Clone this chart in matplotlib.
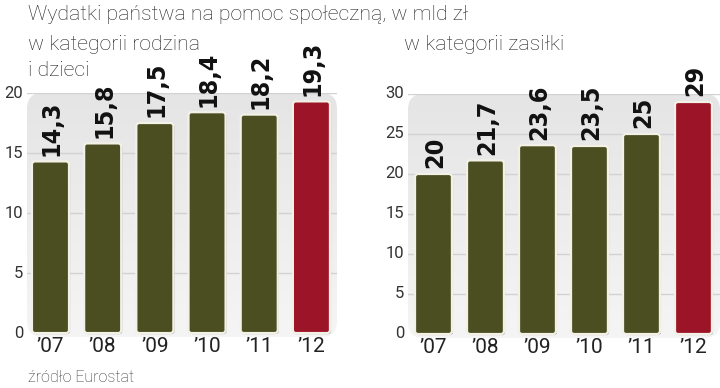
import matplotlib.pyplot as plt
import numpy as np
from matplotlib.patches import FancyBboxPatch
from matplotlib.colors import LinearSegmentedColormap
import matplotlib.patheffects as pe

years = ["\u201907", "\u201908", "\u201909", "\u201910", "\u201911", "\u201912"]
rodzina = [14.3, 15.8, 17.5, 18.4, 18.2, 19.3]
zasilki = [20, 21.7, 23.6, 23.5, 25, 29]
rodzina_labels = ["14,3", "15,8", "17,5", "18,4", "18,2", "19,3"]
zasilki_labels = ["20", "21,7", "23,6", "23,5", "25", "29"]

OLIVE = "#4a4e21"
RED = "#9b1428"
LIGHT = ["Roboto", "DejaVu Sans"]

W, H = 720, 388
fig = plt.figure(figsize=(7.2, 3.88), dpi=100)


def px_axes(left, right, top, bottom):
    return fig.add_axes([left / W, 1 - bottom / H, (right - left) / W, (bottom - top) / H])


def draw_panel(ax, values, labels, ymax, step, xlim, ypad, ypad_label):
    ax.set_xlim(*xlim)
    ax.set_ylim(-ypad, ymax)
    ax.axis("off")

    # light grey rounded background with soft vertical gradient
    panel = FancyBboxPatch((0, 0), 1, 1, boxstyle="round,pad=0,rounding_size=0.05",
                           transform=ax.transAxes, facecolor="none", edgecolor="none",
                           mutation_aspect=1.3)
    ax.add_patch(panel)
    grad = np.linspace(0, 1, 100).reshape(-1, 1)
    cmap = LinearSegmentedColormap.from_list("g", ["#f5f5f5", "#e5e5e5"])
    img = ax.imshow(grad, extent=[xlim[0], xlim[1], -ypad, ymax], aspect="auto",
                    cmap=cmap, origin="lower", zorder=0)
    img.set_clip_path(panel)

    # gridlines
    for t in np.arange(step, ymax + 0.01, step):
        ax.plot([xlim[0], xlim[1]], [t, t], color="#d2d2d2", lw=1, zorder=1)

    # tick labels
    for t in np.arange(0, ymax + 0.01, step):
        ax.text(-ypad_label, t, f"{t:g}", transform=ax.get_yaxis_transform(),
                ha="right", va="center", fontsize=12, color="#333333", family=LIGHT)

    x = np.arange(len(values))
    colors = [OLIVE] * (len(values) - 1) + [RED]
    bars = ax.bar(x, values, width=0.71, color=colors)
    bbox = ax.get_window_extent()
    xu = bbox.width / (xlim[1] - xlim[0])
    yu = bbox.height / (ymax + ypad)
    for b, c in zip(bars, colors):
        b.set_visible(False)
        fb = FancyBboxPatch((b.get_x(), b.get_y()), b.get_width(), b.get_height(),
                            boxstyle="round,pad=0,rounding_size=%f" % (3 / xu),
                            mutation_aspect=xu / yu, facecolor=c, edgecolor="#f3f1e6",
                            lw=1.6, zorder=3)
        fb.set_path_effects([pe.SimplePatchShadow(offset=(0.8, -0.8), shadow_rgbFace="#555555",
                                                  alpha=0.45), pe.Normal()])
        ax.add_patch(fb)

    for xi, v, lab in zip(x, values, labels):
        ax.annotate(lab, (xi, v), xytext=(1, 4), textcoords="offset points",
                    rotation=90, ha="center", va="bottom", fontsize=18,
                    fontweight="bold", fontstretch="condensed", family="DejaVu Sans",
                    color="#111111")

    for xi, yr in zip(x, years):
        ax.text(xi, -ypad, yr, transform=ax.transData, ha="center", va="top",
                fontsize=15, color="#222222", family=LIGHT)


ax1 = px_axes(27, 337, 93, 337)
draw_panel(ax1, rodzina, rodzina_labels, 20, 5, (-0.45, 5.49), 0.33, 0.012)
ax2 = px_axes(408, 720, 94, 338)
draw_panel(ax2, zasilki, zasilki_labels, 30, 5, (-0.49, 5.51), 0.5, 0.012)

title_kw = dict(fontsize=15.3, family=LIGHT, fontweight="light", color="#222222", va="center")
fig.text(28 / W, 1 - 15 / H, "Wydatki pa\u0144stwa na pomoc spo\u0142eczn\u0105, w mld z\u0142", **title_kw)
fig.text(28 / W, 1 - 44 / H, "w kategorii rodzina", **title_kw)
fig.text(28 / W, 1 - 71 / H, "i dzieci", **title_kw)
fig.text(404 / W, 1 - 44 / H, "w kategorii zasi\u0142ki", **title_kw)
fig.text(28 / W, 1 - 377 / H, "\u017ar\u00f3d\u0142o Eurostat", fontsize=11.5, family=LIGHT,
         fontweight="light", color="#333333", va="center")

fig.savefig("out.png", dpi=100)
